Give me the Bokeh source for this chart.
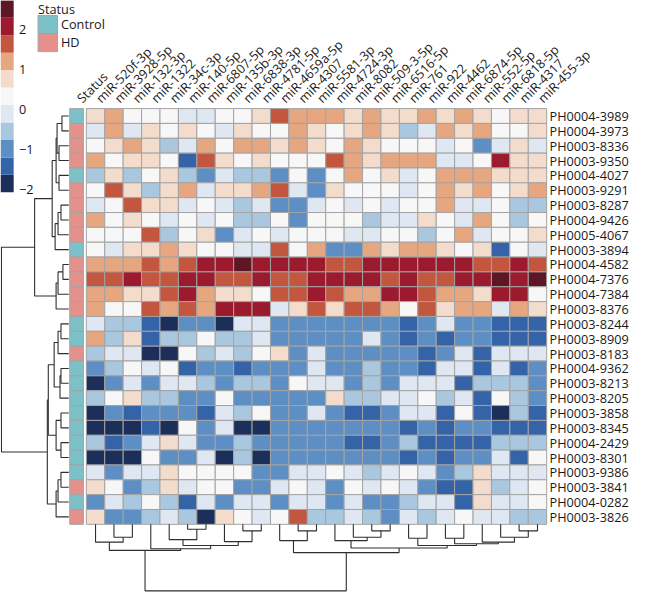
import math
from bokeh.plotting import figure
from bokeh.models import ColumnDataSource, LinearColorMapper, Range1d
from bokeh.transform import transform
from bokeh.core.properties import value
from bokeh.embed import file_html
from bokeh.resources import INLINE

# ---------------- data ----------------
mirnas = ["miR-520f-3p", "miR-3928-5p", "miR-132-3p", "miR-1322", "miR-34c-3p",
          "miR-140-5p", "miR-6807-5p", "miR-135b-3p", "miR-6838-3p", "miR-4781-5p",
          "miR-4659a-5p", "miR-4307", "miR-5581-3p", "miR-4724-3p", "miR-8082",
          "miR-509-3-5p", "miR-6516-5p", "miR-761", "miR-922", "miR-4462",
          "miR-6874-5p", "miR-552-5p", "miR-6818-5p", "miR-4317", "miR-455-3p"]

samples = ["PH0004-3989", "PH0004-3973", "PH0003-8336", "PH0003-9350", "PH0004-4027",
           "PH0003-9291", "PH0003-8287", "PH0004-9426", "PH0005-4067", "PH0003-3894",
           "PH0004-4582", "PH0004-7376", "PH0004-7384", "PH0003-8376", "PH0003-8244",
           "PH0003-8909", "PH0003-8183", "PH0004-9362", "PH0003-8213", "PH0003-8205",
           "PH0003-3858", "PH0003-8345", "PH0004-2429", "PH0003-8301", "PH0003-9386",
           "PH0003-3841", "PH0004-0282", "PH0003-3826"]

status = ["Control", "HD", "HD", "HD", "Control", "HD", "HD", "HD", "HD", "Control",
          "HD", "HD", "HD", "HD", "Control", "Control", "HD", "Control", "Control", "Control",
          "Control", "Control", "Control", "Control", "Control", "HD", "Control", "HD"]

# scaled expression values (rows = samples, cols = miRNAs)
expression = [
    [0.76, 1.2, 0.33, 0.33, 0.33, -0.11, -0.11, 0.33, 0.33, 0.76, 1.63, 1.2, 1.2, 1.2, 0.76, 1.2, 0.76, 0.76, 1.2, 0.76, 1.2, 0.76, 0.33, 0.76, 0.76],
    [-0.11, 1.2, -0.11, 0.76, 0.33, 0.76, 0.33, -0.11, 0.76, 0.33, 0.33, 1.2, 0.76, 0.33, 0.76, 1.2, 0.76, -0.54, -0.11, 1.2, 0.76, 1.2, 0.33, 0.33, 0.76],
    [0.33, 0.76, 1.2, 0.76, -0.54, -0.11, 1.2, 0.33, 1.2, 1.2, 0.76, 1.2, 0.76, 0.33, 1.2, 0.76, 0.33, 0.33, 0.33, -0.11, 0.33, -0.97, -0.11, 0.76, -0.11],
    [1.2, 0.33, 0.76, 0.76, 0.33, -1.41, 1.63, 0.76, 0.33, 0.76, 0.33, 0.33, 0.33, 1.63, 1.2, 0.76, 1.2, 1.2, 1.2, -0.11, -0.11, 0.33, 2.06, 0.76, 0.76],
    [-0.54, 0.76, -0.54, 0.33, 0.76, -0.54, -0.97, -0.11, -0.54, -0.54, -0.97, 0.33, -0.97, 0.33, 1.2, 0.33, 0.76, -0.11, 0.33, 1.2, 1.2, 1.2, 0.76, 0.76, 0.76],
    [0.33, 1.63, 0.76, -0.54, 0.76, 1.2, -0.11, 0.76, 0.76, 1.2, 1.63, -0.11, -0.97, 0.76, 0.33, 0.33, 0.33, -0.11, 0.33, 1.2, 0.76, 1.2, 0.33, 0.76, 1.2],
    [-0.11, 0.33, 1.63, 0.76, 0.76, -0.11, 0.33, -0.11, -0.54, -0.11, -0.97, -0.97, -0.11, 0.33, -0.11, 0.33, -0.11, 0.33, 0.33, 1.2, -0.11, -0.11, 0.33, -0.54, -0.54],
    [1.2, 0.33, 0.76, 0.33, -0.11, 0.33, -0.11, 0.33, -0.54, -0.54, 0.33, -0.97, 0.33, 0.33, 0.33, -0.54, -0.11, -0.11, 0.76, 0.33, -0.11, 1.2, 0.33, -0.54, 0.33],
    [0.33, 0.33, 0.33, 1.63, -0.54, 0.33, 0.76, -0.97, -0.11, 0.33, -0.11, 0.33, 0.33, 0.33, -0.11, -0.11, 0.33, 0.33, -0.54, 0.33, 1.2, -0.11, 0.33, 0.33, 0.76],
    [0.33, -0.11, 0.76, 0.76, 1.2, 0.76, 0.33, 0.33, -0.11, -0.11, 1.63, 0.33, 1.2, -0.97, -0.97, 1.2, 0.76, 1.2, 1.2, 0.76, 0.33, 0.76, -1.41, 0.33, -0.11],
    [1.2, 1.2, 1.2, 1.63, 1.2, 1.63, 2.06, 2.06, 2.5, 2.06, 2.06, 2.06, 2.06, 1.63, 1.63, 2.06, 2.06, 2.06, 2.06, 2.06, 2.06, 1.63, 1.63, 2.06, 1.63],
    [1.63, 1.63, 2.06, 1.63, 1.63, 2.06, 2.06, 1.63, 1.63, 2.06, 1.63, 1.63, 2.06, 2.06, 2.06, 2.06, 1.63, 2.06, 1.63, 1.63, 2.06, 2.06, 2.5, 2.06, 2.5],
    [1.2, 1.2, 0.76, 0.76, 1.63, 2.06, 1.2, 0.76, 0.76, 0.33, 1.63, 1.63, 2.06, 1.63, 1.2, 1.2, 2.06, 2.06, 1.63, 1.2, 1.2, 0.76, 2.06, 2.06, 0.33],
    [1.2, 0.33, 0.33, 1.63, 1.2, 1.63, 1.2, 2.06, 2.06, 2.06, -0.11, 0.76, 1.63, 0.76, 1.63, 1.63, 1.2, 0.33, 1.63, 0.76, 1.2, 1.2, -0.11, 1.2, 0.76],
    [-0.11, -0.54, -0.54, -1.41, -1.84, -0.97, -0.97, -1.84, -0.11, -0.11, -0.97, -0.97, -0.97, -0.97, -0.97, -0.97, -0.97, -1.41, -0.97, -0.11, -0.97, -0.97, -1.41, -1.41, -1.41],
    [1.2, -0.54, 0.76, -1.41, -0.54, -0.54, 0.33, -0.54, -0.54, -0.11, -0.97, -0.97, -0.97, -0.97, -0.97, -0.11, -0.97, -1.41, -0.97, -1.41, -0.97, -0.97, -1.41, -1.41, -1.41],
    [-0.54, -0.11, -0.11, -1.84, -1.84, 0.33, -0.54, -0.11, -0.54, 0.33, 0.76, -0.97, -0.11, -0.97, -0.97, -0.97, -0.97, -0.97, -1.41, -0.97, -0.11, -1.41, -0.11, -0.11, -0.11],
    [-0.97, -0.54, 0.33, -0.11, 0.33, -1.41, -0.97, -0.97, -1.41, -0.97, -0.97, -0.97, -0.11, -0.97, -0.97, -0.54, -0.97, -0.97, -1.41, -0.11, -0.11, -1.41, -0.11, -1.41, -0.97],
    [-1.84, -0.97, -0.11, -0.97, -0.11, -0.11, -0.54, -0.97, -0.54, -0.54, -0.97, 0.33, -0.11, -0.11, -0.97, -0.54, -0.97, -0.11, -0.11, -0.11, -1.41, -0.54, -0.54, -0.54, -0.97],
    [-0.54, 0.33, 0.76, -0.54, -0.54, -0.97, -0.97, 0.33, -0.97, -0.97, -0.97, -0.97, -0.97, 0.76, -0.54, -0.54, -0.11, -0.11, 0.33, -0.54, -0.11, -1.41, 0.33, -0.54, -0.97],
    [-1.84, -0.97, -1.41, -0.97, -0.97, -0.97, -1.41, -0.11, -0.54, 0.33, -0.97, -0.97, -0.11, -0.97, -1.41, -1.41, -0.97, -0.11, -0.11, -1.41, 0.33, -1.41, -1.84, -0.54, -1.41],
    [-1.84, -1.84, -1.84, -1.41, -1.84, 0.33, -0.97, -0.11, -1.84, -1.84, -0.97, -0.97, -0.97, -0.97, -0.97, -0.97, -0.97, -1.41, -0.97, -1.41, -0.97, -0.97, -1.41, -1.41, -1.41],
    [-0.54, -1.41, -0.97, -0.11, 0.76, -0.11, -0.97, -0.97, -0.54, -0.97, -0.97, -0.97, -0.97, -0.97, -1.41, -1.41, -0.97, -0.54, -1.41, -1.41, -1.41, -1.41, -0.54, -0.54, -0.54],
    [-1.84, -1.84, -1.84, 0.33, -0.97, -0.97, -0.11, -1.84, -0.54, -1.84, -0.97, -0.97, -0.97, -0.97, -0.97, -0.97, -0.97, -1.41, -0.97, -1.41, -0.97, -0.97, -0.11, -1.41, 0.33],
    [-0.11, -0.97, -0.11, -0.11, 0.76, 0.33, 0.33, 0.33, 0.33, -0.97, -0.97, -0.11, -0.11, 0.33, -0.11, -0.54, -0.11, 0.33, -0.11, -0.97, -0.54, 0.76, -0.11, -0.11, -0.11],
    [0.76, 0.33, -0.97, -0.54, 0.76, -0.11, 0.33, 0.33, -0.97, -0.97, -0.11, 0.33, -0.11, -0.97, 0.33, -0.11, 0.33, -0.11, -0.97, -1.41, -1.41, 0.76, -0.54, -0.11, 0.33],
    [-0.97, -0.11, -0.54, 0.33, -0.54, -1.41, -0.11, -0.97, -0.11, -0.11, -0.97, -0.11, -0.11, -0.97, -0.11, -0.97, -0.97, -0.54, -0.11, -0.11, -1.41, 0.76, -0.11, -0.11, 0.33],
    [0.76, -0.97, -0.97, -0.54, -0.11, -0.54, -1.84, 0.76, 0.33, -0.11, 0.33, 1.63, -0.54, -0.54, -0.11, -0.54, -0.97, -0.11, -0.54, -0.11, 0.33, -0.11, -0.11, -0.54, -0.54],
]

# colour scale
palette = ["#1c2f5b", "#3463a8", "#5d8fc5", "#a9c8e0", "#dfe8f2", "#f7f7f7",
           "#f4dccc", "#e6a67f", "#c2563f", "#9c1a2d", "#5d1624"]
scale_low, scale_high = -2.06, 2.72
legend_ticks = [2, 1, 0, -1, -2]
legend_tick_labels = ["2", "1", "0", "\u22121", "\u22122"]

status_levels = ["Control", "HD"]
status_colors = ["#7cc0c8", "#e4918c"]

# hierarchical clustering merges: (left id, right id, height)
row_merges = [(0, 1, 7), (2, 3, 10), (28, 29, 12), (4, 5, 10), (30, 31, 13), (6, 7, 8),
              (33, 8, 11), (34, 9, 14), (32, 35, 17), (10, 11, 6), (37, 12, 11), (38, 13, 13),
              (36, 39, 35), (14, 15, 8), (41, 16, 11), (17, 18, 8), (43, 19, 9), (42, 44, 15),
              (20, 21, 8), (22, 23, 8), (46, 47, 13), (45, 48, 21), (24, 25, 8), (50, 26, 11),
              (51, 27, 13), (49, 52, 22), (40, 53, 69)]
col_merges = [(1, 2, 13.3), (0, 25, 18.3), (5, 6, 5), (4, 27, 15.7), (8, 9, 6.7), (7, 29, 17.7),
              (28, 30, 21.7), (3, 31, 25), (26, 32, 26.7), (11, 12, 6.7), (10, 34, 16.7),
              (15, 16, 6.7), (14, 36, 13.3), (13, 37, 16.7), (17, 18, 14.3), (19, 20, 14.3),
              (23, 24, 6.7), (22, 41, 13.3), (21, 42, 18.3), (40, 43, 20), (39, 44, 21.7),
              (38, 45, 24.3), (35, 46, 29), (33, 47, 68.3)]

# ---------------- layout (reference pixel units) ----------------
REF_W, REF_H = 649, 608
FIG_W, FIG_H = 633, 592
S = FIG_W / REF_W
HX0, HY0 = 88.0, 111.0
CW, CH = 18.88, 15.25
ST_X0, ST_X1 = 71.0, 85.0
ROW_LEAF_X = 70.0
COL_LEAF_Y = 538.0
FONT = value("Open Sans")
FS = value("%.1fpx" % (13 * S))
TXT = "#1a1a1a"

p = figure(width=FIG_W, height=FIG_H, x_range=Range1d(0, REF_W), y_range=Range1d(REF_H, 0),
           output_backend="svg", toolbar_location=None, min_border=0)
p.axis.visible = False
p.grid.visible = False
p.outline_line_color = None
p.background_fill_color = "white"

nr, nc = len(samples), len(mirnas)
mapper = LinearColorMapper(palette=palette, low=scale_low, high=scale_high)

# heatmap cells
xs, ys, vs = [], [], []
for i in range(nr):
    for j in range(nc):
        xs.append(HX0 + (j + 0.5) * CW)
        ys.append(HY0 + (i + 0.5) * CH)
        vs.append(expression[i][j])
src = ColumnDataSource(dict(x=xs, y=ys, v=vs))
p.rect(x="x", y="y", width=CW, height=CH, source=src,
       fill_color=transform("v", mapper), line_color="#a3a3a3", line_width=1)

# status annotation column
st_src = ColumnDataSource(dict(
    x=[(ST_X0 + ST_X1) / 2] * nr,
    y=[HY0 + (i + 0.5) * CH for i in range(nr)],
    c=[status_colors[status_levels.index(s)] for s in status]))
p.rect(x="x", y="y", width=ST_X1 - ST_X0, height=CH, source=st_src,
       fill_color="c", line_color="#a3a3a3", line_width=1)

# row labels
p.text(x=[HX0 + nc * CW + 3] * nr, y=[HY0 + (i + 0.5) * CH for i in range(nr)], text=samples,
       text_font=FONT, text_font_size=FS, text_baseline="middle", text_align="left",
       text_color=TXT)

# column labels (rotated)
lab_x = [(ST_X0 + ST_X1) / 2 + 2.5] + [HX0 + (j + 0.5) * CW + 2.5 for j in range(nc)]
p.text(x=lab_x, y=[102.5] * (nc + 1), text=["Status"] + mirnas, angle=math.pi / 4,
       text_font=FONT, text_font_size=FS, text_baseline="middle", text_align="left",
       text_color=TXT)


# dendrograms
def dendro(n, merges, leaf_pos):
    pos = list(leaf_pos)
    hgt = [0.0] * n
    segs = []
    for a, b, h in merges:
        segs.append(([pos[a], pos[a], pos[b], pos[b]], [hgt[a], h, h, hgt[b]]))
        pos.append((pos[a] + pos[b]) / 2.0)
        hgt.append(h)
    return segs


row_segs = dendro(nr, row_merges, [HY0 + (i + 0.5) * CH for i in range(nr)])
p.multi_line(xs=[[ROW_LEAF_X - h for h in hh] for _, hh in row_segs],
             ys=[pp for pp, _ in row_segs], line_color="#2e2e2e", line_width=1.1)
col_segs = dendro(nc, col_merges, [HX0 + (j + 0.5) * CW for j in range(nc)])
p.multi_line(xs=[pp for pp, _ in col_segs],
             ys=[[COL_LEAF_Y + h for h in hh] for _, hh in col_segs],
             line_color="#2e2e2e", line_width=1.1)

# colour legend
LEG_Y0, LEG_K = 112.0, 41.25
step = (scale_high - scale_low) / len(palette)
bounds = [scale_low + k * step for k in range(len(palette) + 1)]
p.quad(left=[0] * len(palette), right=[13.5] * len(palette),
       top=[LEG_Y0 - LEG_K * bounds[k + 1] for k in range(len(palette))],
       bottom=[LEG_Y0 - LEG_K * bounds[k] for k in range(len(palette))],
       fill_color=palette, line_color=None)
p.text(x=[19] * len(legend_ticks), y=[LEG_Y0 - LEG_K * t for t in legend_ticks],
       text=legend_tick_labels, text_font=FONT, text_font_size=FS,
       text_baseline="middle", text_align="left", text_color=TXT)

# status legend
p.text(x=[38.5], y=[9], text=["Status"], text_font=FONT, text_font_size=FS,
       text_baseline="middle", text_align="left", text_color=TXT)
p.quad(left=[38.5, 38.5], right=[58.5, 58.5], top=[15.5, 34], bottom=[34, 52.5],
       fill_color=status_colors, line_color="#a3a3a3", line_width=1)
p.text(x=[62, 62], y=[24.5, 43], text=status_levels, text_font=FONT, text_font_size=FS,
       text_baseline="middle", text_align="left", text_color=TXT)

open("out.html", "w").write(file_html(p, INLINE))
